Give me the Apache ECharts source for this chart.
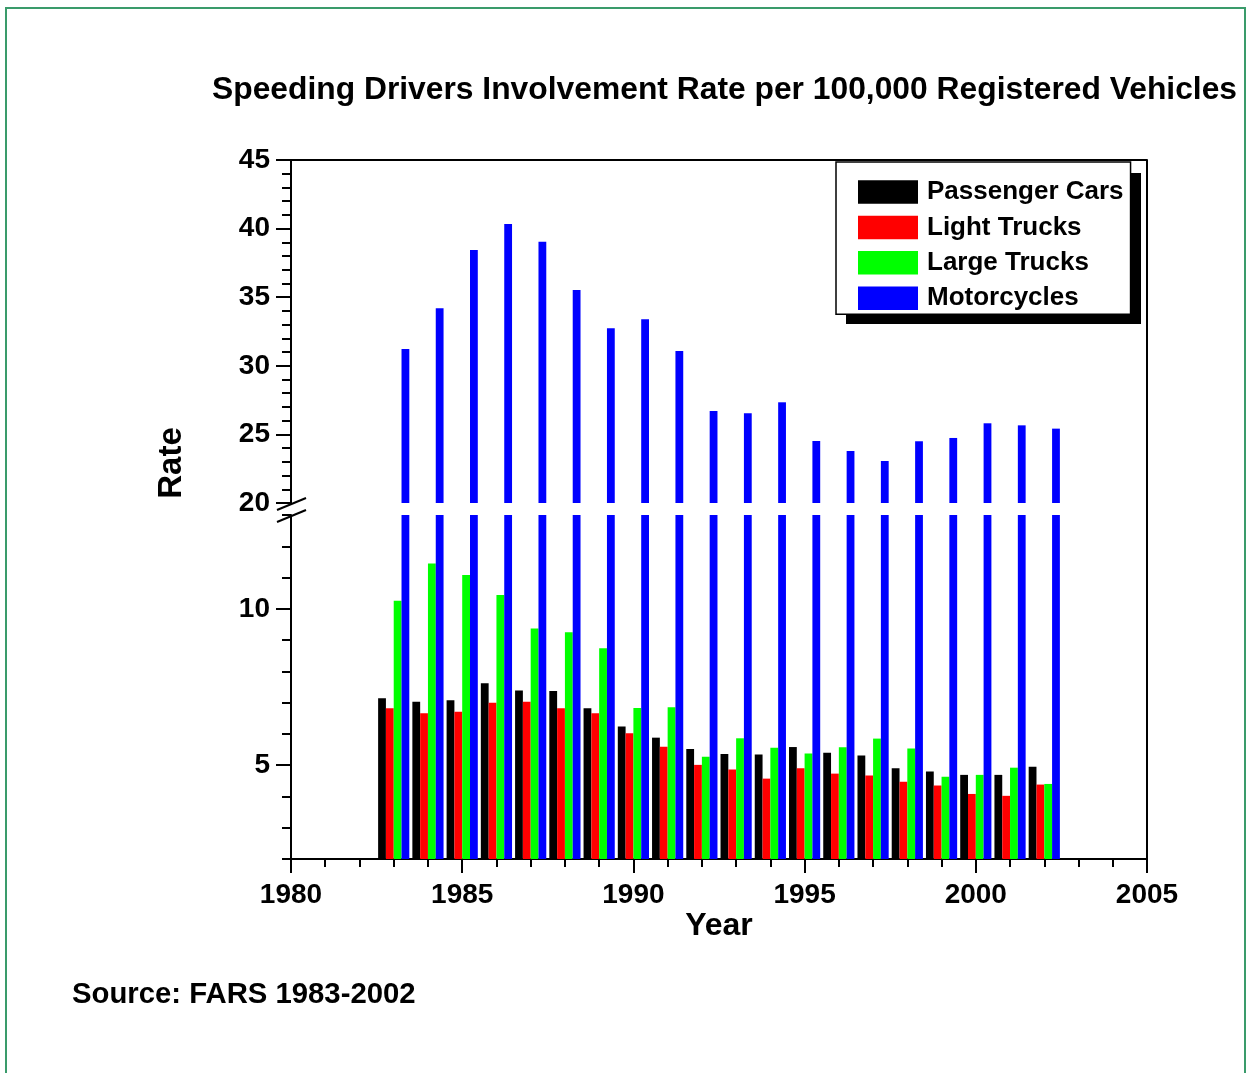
<!DOCTYPE html>
<html>
<head>
<meta charset="utf-8">
<script src="https://cdn.jsdelivr.net/npm/echarts@6/dist/echarts.min.js"></script>
<style>
  html, body { margin: 0; padding: 0; background: #fff; }
  #chart { width: 1247px; height: 1073px; }
</style>
</head>
<body>
<div id="chart"></div>
<script>
// values
const years = [1983, 1984, 1985, 1986, 1987, 1988, 1989, 1990, 1991, 1992,
  1993, 1994, 1995, 1996, 1997, 1998, 1999, 2000, 2001, 2002]
const passengerCars = [7.14, 7.03, 7.08, 7.62, 7.39, 7.37, 6.82, 6.24, 5.88, 5.52,
  5.36, 5.34, 5.58, 5.40, 5.31, 4.90, 4.80, 4.69, 4.69, 4.95]
const lightTrucks = [6.82, 6.66, 6.71, 7.00, 7.03, 6.82, 6.66, 6.02, 5.59, 5.01,
  4.86, 4.57, 4.90, 4.73, 4.67, 4.47, 4.35, 4.08, 4.02, 4.38]
const largeTrucks = [10.26, 11.45, 11.08, 10.44, 9.37, 9.25, 8.74, 6.83, 6.85, 5.27,
  5.86, 5.56, 5.37, 5.57, 5.85, 5.53, 4.63, 4.69, 4.92, 4.40]
const motorcycles = [31.22, 34.19, 38.44, 40.34, 39.05, 35.52, 32.73, 33.39, 31.08, 26.71,
  26.54, 27.34, 24.52, 23.79, 23.06, 24.50, 24.74, 25.81, 25.66, 25.42]
const seriesNames = ['Passenger Cars', 'Light Trucks', 'Large Trucks', 'Motorcycles']
const seriesColors = ['#000000', '#ff0000', '#00ff00', '#0000ff']
const lowLabels = [5, 10]

// layout
const plotLeft = 291
const plotRight = 1147
const plotTop = 160
const breakTop = 503
const breakBottom = 515
const plotBottom = 859

const chart = echarts.init(document.getElementById('chart'))
const allData = [passengerCars, lightTrucks, largeTrucks, motorcycles]
const font = 'Liberation Sans, Arial, sans-serif'

const makeSeries = (gridIdx) => seriesNames.map((name, i) => ({
  name: name,
  type: 'bar',
  xAxisIndex: gridIdx,
  yAxisIndex: gridIdx,
  barWidth: 7.8,
  barGap: '0%',
  itemStyle: { color: seriesColors[i] },
  data: years.map((y, k) => [y, allData[i][k]]),
  animation: false
}))

const axisLineStyle = { color: '#000', width: 2 }

chart.setOption({
  animation: false,
  textStyle: { fontFamily: font },
  title: {
    text: 'Speeding Drivers Involvement Rate per 100,000 Registered Vehicles',
    left: 207,
    top: 69,
    textStyle: { fontSize: 31.8, fontWeight: 'bold', color: '#000', fontFamily: font }
  },
  legend: {
    data: seriesNames,
    orient: 'vertical',
    left: 836,
    top: 162,
    padding: [17, 7, 3, 22],
    itemWidth: 60,
    itemHeight: 23.5,
    itemGap: 9.4,
    icon: 'rect',
    backgroundColor: '#fff',
    borderColor: '#000',
    borderWidth: 1.5,
    borderRadius: 0,
    textStyle: { fontSize: 26, fontWeight: 'bold', color: '#000', fontFamily: font, padding: [0, 0, 0, 4] }
  },
  grid: [
    { left: plotLeft, width: plotRight - plotLeft, top: plotTop, height: breakTop - plotTop },
    { left: plotLeft, width: plotRight - plotLeft, top: breakBottom, height: plotBottom - breakBottom }
  ],
  xAxis: [
    {
      gridIndex: 0,
      type: 'value',
      position: 'top',
      min: 1980,
      max: 2005,
      interval: 5,
      axisLine: { show: true, onZero: false, lineStyle: axisLineStyle },
      axisTick: { show: false },
      axisLabel: { show: false },
      splitLine: { show: false }
    },
    {
      gridIndex: 1,
      type: 'value',
      min: 1980,
      max: 2005,
      interval: 5,
      name: 'Year',
      nameLocation: 'middle',
      nameGap: 46,
      nameTextStyle: { fontSize: 32, fontWeight: 'bold', color: '#000', fontFamily: font },
      axisLine: { show: true, onZero: false, lineStyle: axisLineStyle },
      axisTick: { show: true, length: 14, lineStyle: axisLineStyle },
      minorTick: { show: true, splitNumber: 5, length: 8, lineStyle: axisLineStyle },
      axisLabel: {
        fontSize: 28, fontWeight: 'bold', color: '#000', margin: 22, fontFamily: font,
        formatter: (v) => String(v)
      },
      splitLine: { show: false }
    }
  ],
  yAxis: [
    {
      gridIndex: 0,
      type: 'value',
      min: 20,
      max: 45,
      interval: 5,
      axisLine: { show: true, onZero: false, lineStyle: axisLineStyle },
      axisTick: { show: true, length: 15, lineStyle: axisLineStyle },
      minorTick: { show: true, splitNumber: 5, length: 9, lineStyle: axisLineStyle },
      axisLabel: { fontSize: 28, fontWeight: 'bold', color: '#000', margin: 21, fontFamily: font },
      splitLine: { show: false }
    },
    {
      gridIndex: 1,
      type: 'value',
      position: 'left',
      min: 2,
      max: 13,
      interval: 1,
      axisLine: { show: true, onZero: false, lineStyle: axisLineStyle },
      axisTick: { show: true, length: 9, lineStyle: axisLineStyle },
      axisLabel: {
        fontSize: 28, fontWeight: 'bold', color: '#000', margin: 21, fontFamily: font,
        formatter: (v) => (lowLabels.indexOf(v) >= 0 ? String(v) : '')
      },
      splitLine: { show: false }
    },
    {
      gridIndex: 1,
      type: 'value',
      position: 'left',
      offset: 0,
      min: 2,
      max: 13,
      interval: 1,
      axisLine: { show: false, onZero: false },
      axisTick: { show: true, length: 15, customValues: lowLabels, lineStyle: axisLineStyle },
      axisLabel: { show: false },
      splitLine: { show: false }
    }
  ],
  series: makeSeries(0).concat(makeSeries(1)),
  graphic: [
    // outer page frame
    {
      type: 'rect', silent: true, z: -10,
      shape: { x: 6, y: 8, width: 1239, height: 1100 },
      style: { fill: 'none', stroke: '#3a9b6b', lineWidth: 2 }
    },
    // right border of plot
    {
      type: 'line', silent: true,
      shape: { x1: plotRight, y1: plotTop, x2: plotRight, y2: plotBottom },
      style: { stroke: '#000', lineWidth: 2 }
    },
    // legend shadow
    {
      type: 'rect', silent: true, z: 0,
      shape: { x: 846, y: 173, width: 295, height: 151 },
      style: { fill: '#000' }
    },
    // axis break marks
    {
      type: 'line', silent: true,
      shape: { x1: 277, y1: 510, x2: 306, y2: 498 },
      style: { stroke: '#000', lineWidth: 2 }
    },
    {
      type: 'line', silent: true,
      shape: { x1: 277, y1: 522, x2: 306, y2: 510 },
      style: { stroke: '#000', lineWidth: 2 }
    },
    {
      type: 'text', silent: true,
      x: 172, y: 463, rotation: Math.PI / 2,
      style: {
        text: 'Rate', fontSize: 33, fontWeight: 'bold', fill: '#000', fontFamily: font,
        align: 'center', verticalAlign: 'middle'
      }
    },
    {
      type: 'text', silent: true,
      x: 72, y: 995,
      style: {
        text: 'Source: FARS 1983-2002', fontSize: 29.3, fontWeight: 'bold', fill: '#000', fontFamily: font,
        align: 'left', verticalAlign: 'middle'
      }
    }
  ]
})
</script>
</body>
</html>
